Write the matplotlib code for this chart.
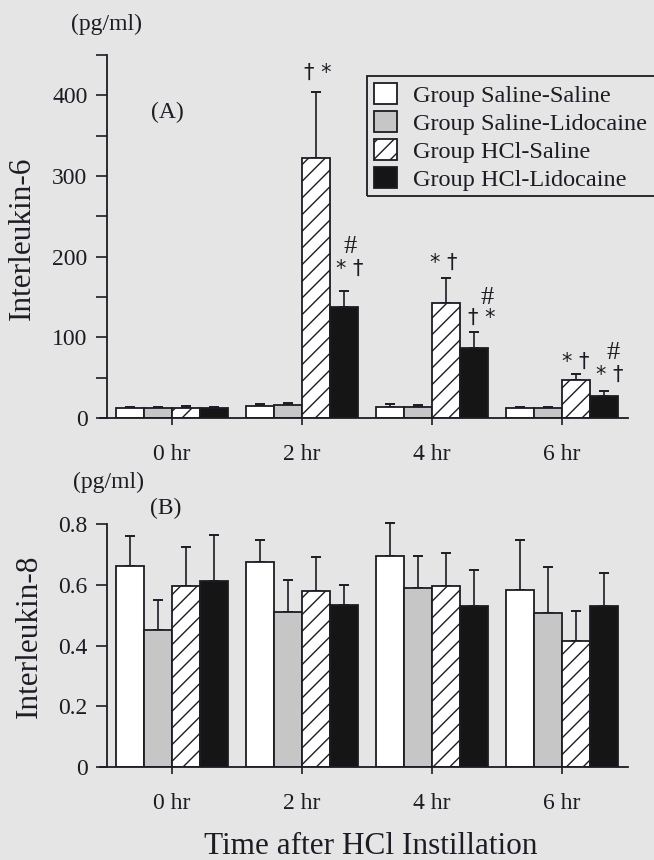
import numpy as np
import matplotlib
matplotlib.use("Agg")
import matplotlib.pyplot as plt
from matplotlib.ticker import MultipleLocator
from matplotlib.patches import Rectangle

plt.rcParams['font.family'] = ['Liberation Serif', 'DejaVu Serif']
plt.rcParams['hatch.linewidth'] = 1.0

# dados
horas = ["0 hr", "2 hr", "4 hr", "6 hr"]
grupos = ["Group Saline-Saline", "Group Saline-Lidocaine",
          "Group HCl-Saline", "Group HCl-Lidocaine"]

# Interleukin-6 (pg/ml): média e erro por grupo
il6_media = [
    [12, 15, 14, 12],
    [12, 16, 14, 12],
    [13, 322, 142, 47],
    [13, 137, 87, 27],
]
il6_erro = [
    [2, 2, 3, 2],
    [2, 3, 2, 2],
    [2, 82, 31, 8],
    [1, 21, 19, 7],
]

# Interleukin-8 (pg/ml)
il8_media = [
    [0.662, 0.674, 0.695, 0.583],
    [0.451, 0.511, 0.590, 0.508],
    [0.597, 0.580, 0.596, 0.415],
    [0.612, 0.533, 0.531, 0.530],
]
il8_erro = [
    [0.099, 0.073, 0.110, 0.164],
    [0.099, 0.105, 0.105, 0.151],
    [0.126, 0.112, 0.110, 0.099],
    [0.152, 0.066, 0.118, 0.108],
]

# marcas de significância (hora, grupo, texto, altura em pg/ml)
marcas_hora = [1, 1, 1, 2, 2, 2, 3, 3, 3]
marcas_grupo = [2, 3, 3, 2, 3, 3, 2, 3, 3]
marcas_texto = ["† *", "#", "* †", "* †", "#", "† *", "* †", "#", "* †"]
marcas_y = [428, 212, 185, 192, 149, 124, 70, 81, 53]
marcas_dx = [2, 6, 6, -2, 13, 8, 0, 9, 6]  # deslocamento em px

fundo = "#e5e5e5"
tinta = "#1c1c24"
cores = ["white", "#c6c6c6", "white", "#151515"]
hachuras = [None, None, "//", None]

W, H = 654, 860
fig = plt.figure(figsize=(W / 100, H / 100), dpi=100, facecolor=fundo)

px = 130.0  # px por grupo
xlim = ((100 - 172) / px, (628 - 172) / px)
largura = 28 / px
x = np.arange(len(horas))


def painel(ax, medias, erros):
    ax.set_facecolor(fundo)
    for g in range(4):
        pos = x + (g - 1.5) * largura
        ax.bar(pos, medias[g], largura, color=cores[g], edgecolor=tinta,
               linewidth=1.3, hatch=hachuras[g], label=grupos[g], zorder=2)
        ax.errorbar(pos, medias[g], yerr=[np.zeros(4), erros[g]], fmt="none",
                    ecolor=tinta, elinewidth=1.2, capsize=3.8, capthick=1.4,
                    zorder=1, clip_on=False)
    ax.set_xlim(*xlim)
    for s in ["top", "right"]:
        ax.spines[s].set_visible(False)
    ax.spines["left"].set_position(("data", -0.5))
    for s in ["left", "bottom"]:
        ax.spines[s].set_color(tinta)
        ax.spines[s].set_linewidth(1.3)
    ax.set_xticks(x)
    ax.set_xticklabels(horas)
    ax.tick_params(axis="x", length=5, width=1.2, color=tinta, pad=14,
                   labelsize=17, labelcolor=tinta)
    ax.tick_params(axis="y", which="both", length=8, width=1.2, color=tinta,
                   pad=6, labelsize=17, labelcolor=tinta)


# (A) Interleukin-6
axA = fig.add_axes([100 / W, 1 - 418 / H, 528 / W, 363 / H])
painel(axA, il6_media, il6_erro)
axA.set_ylim(0, 450)
axA.spines["left"].set_bounds(0, 450)
axA.yaxis.set_major_locator(MultipleLocator(100))
axA.yaxis.set_minor_locator(MultipleLocator(50))
axA.set_yticks([0, 100, 200, 300, 400])

for h, g, t, yv, dx in zip(marcas_hora, marcas_grupo, marcas_texto, marcas_y, marcas_dx):
    xc = h + (g - 1.5) * largura + dx / px
    tam = 19 if t == "#" else 15
    axA.text(xc, yv, t, ha="center", va="center", fontsize=tam, color=tinta,
             family=["DejaVu Sans"] if t != "#" else None)

# legenda sem moldura; a caixa vai além da borda direita da figura
leg = axA.legend(loc="upper left", bbox_to_anchor=(367 / W, 1 - 76 / H),
                 bbox_transform=fig.transFigure, fontsize=17.5, frameon=False,
                 handlelength=0.95, handleheight=0.95, handletextpad=0.65,
                 labelspacing=0.17, borderpad=0.3, borderaxespad=0)
for t in leg.get_texts():
    t.set_color(tinta)
fig.add_artist(Rectangle((367 / W, 1 - 196 / H), 400 / W, 120 / H,
                         transform=fig.transFigure, fill=False,
                         edgecolor=tinta, linewidth=1.3, zorder=5))

# (B) Interleukin-8
axB = fig.add_axes([100 / W, 1 - 767 / H, 528 / W, (767 - 518) / H])
painel(axB, il8_media, il8_erro)
axB.set_ylim(0, 0.82)
axB.spines["left"].set_bounds(0, 0.8)
axB.set_yticks([0, 0.2, 0.4, 0.6, 0.8])
axB.set_yticklabels(["0", "0.2", "0.4", "0.6", "0.8"])

# textos
fig.text(106 / W, 1 - 24 / H, "(pg/ml)", ha="center", va="center", fontsize=17, color=tinta)
fig.text(167 / W, 1 - 112 / H, "(A)", ha="center", va="center", fontsize=17, color=tinta)
fig.text(108 / W, 1 - 482 / H, "(pg/ml)", ha="center", va="center", fontsize=17, color=tinta)
fig.text(166 / W, 1 - 508 / H, "(B)", ha="center", va="center", fontsize=17, color=tinta)
fig.text(22 / W, 1 - 238 / H, "Interleukin-6", rotation=90, ha="center", va="center",
         fontsize=22.5, color=tinta)
fig.text(29 / W, 1 - 636 / H, "Interleukin-8", rotation=90, ha="center", va="center",
         fontsize=22.5, color=tinta)
fig.text(371 / W, 1 - 846 / H, "Time after HCl Instillation", ha="center", va="center",
         fontsize=22.5, color=tinta)

fig.savefig("out.png", dpi=100, facecolor=fundo)
